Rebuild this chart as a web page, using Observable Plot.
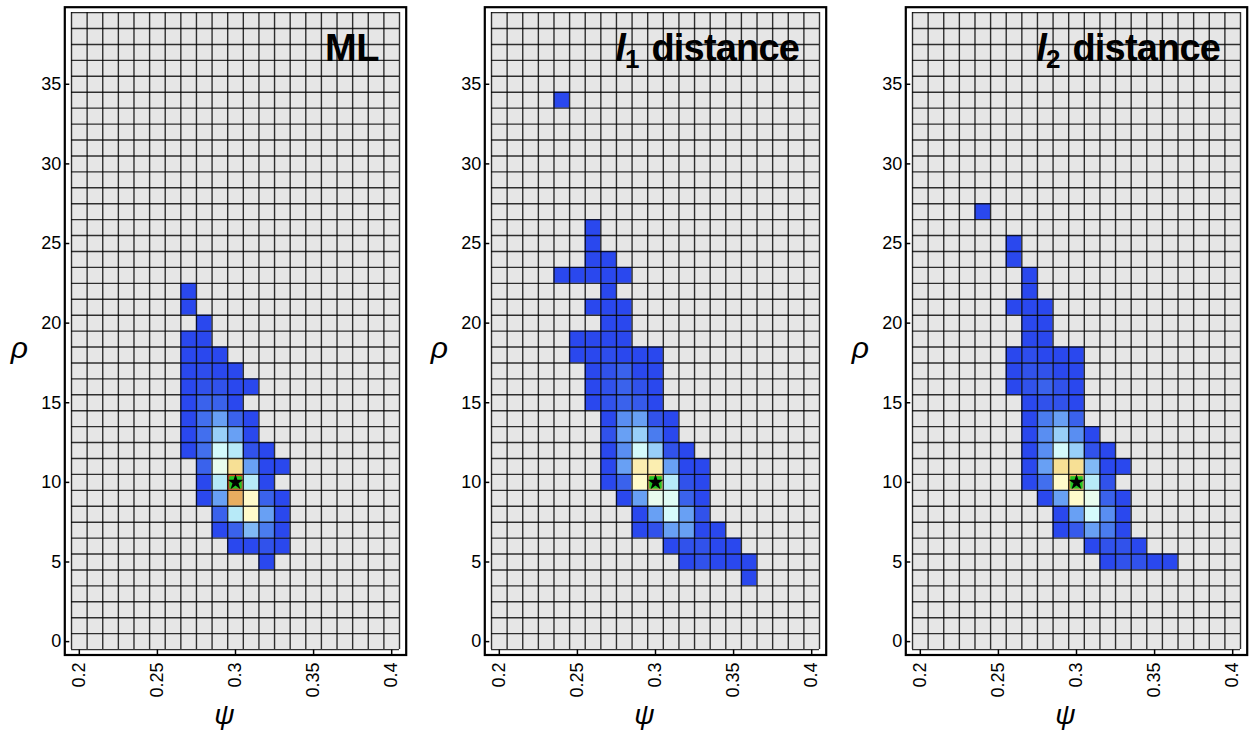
<!DOCTYPE html>
<html>
<head>
<meta charset="utf-8">
<script src="https://cdn.jsdelivr.net/npm/d3@7"></script>
<script src="https://cdn.jsdelivr.net/npm/@observablehq/plot@0.6"></script>
<style>
html, body { margin: 0; padding: 0; background: #fff; overflow: hidden; }
#wrap { position: relative; width: 1251px; height: 736px; overflow: hidden; }
.panel { position: absolute; top: 0; width: 420px; height: 736px; }
.panel svg { max-width: none !important; }
</style>
</head>
<body>
<div id="wrap"></div>
<script>
// ---- grid categories and ticks ----
const psiValues = [0.20, 0.21, 0.22, 0.23, 0.24, 0.25, 0.26, 0.27, 0.28, 0.29, 0.30,
                   0.31, 0.32, 0.33, 0.34, 0.35, 0.36, 0.37, 0.38, 0.39, 0.40];
const rhoValues = [0, 1, 2, 3, 4, 5, 6, 7, 8, 9, 10, 11, 12, 13, 14, 15, 16, 17, 18, 19,
                   20, 21, 22, 23, 24, 25, 26, 27, 28, 29, 30, 31, 32, 33, 34, 35, 36, 37, 38, 39];
const xTicks = [0.2, 0.25, 0.3, 0.35, 0.4];
const yTicks = [0, 5, 10, 15, 20, 25, 30, 35];
const truePsi = 0.30;
const trueRho = 10;
const panelTitles = ["ML", "l1 distance", "l2 distance"];

// colour levels (1 = lowest frequency, 13 = highest)
const levelColors = ["#2a48ee", "#3152eb", "#3a62ec", "#4a7cef", "#68a0f4", "#98cff8", "#b7eaf8",
                     "#d5fbfc", "#e8fcee", "#fffbcb", "#f7e095", "#e8ae60", "#dc5028"];

// rows: [rho, first psi, levels from left to right]
const mlRows = [
  [22, 0.27, [1]],
  [21, 0.27, [1]],
  [20, 0.28, [1]],
  [19, 0.27, [1, 1]],
  [18, 0.27, [1, 1, 1]],
  [17, 0.27, [1, 1.5, 1, 1]],
  [16, 0.27, [1, 2, 2, 1, 1]],
  [15, 0.27, [1, 3, 3, 1]],
  [14, 0.27, [1, 3.5, 5, 3, 1]],
  [13, 0.27, [1, 3.5, 6, 5, 1]],
  [12, 0.27, [1, 3.5, 8, 7, 2, 1]],
  [11, 0.28, [3, 9, 11, 5, 1, 1]],
  [10, 0.28, [1, 7, 13, 7, 1]],
  [9, 0.28, [1, 5, 12, 10, 3, 1]],
  [8, 0.29, [3, 7, 10, 5, 1]],
  [7, 0.29, [1, 3, 5.5, 4, 1]],
  [6, 0.30, [1, 1, 2, 1]],
  [5, 0.32, [1]]
];
const l1Rows = [
  [34, 0.24, [1]],
  [26, 0.26, [1]],
  [25, 0.26, [1]],
  [24, 0.26, [1, 1]],
  [23, 0.24, [1, 1, 1, 1, 1]],
  [22, 0.27, [1]],
  [21, 0.26, [1, 1, 1]],
  [20, 0.27, [1, 1]],
  [19, 0.25, [1, 1, 1, 1]],
  [18, 0.25, [1, 1, 1.5, 1, 1, 1]],
  [17, 0.26, [1, 2, 3, 1, 1]],
  [16, 0.26, [1, 2, 3, 2, 1]],
  [15, 0.26, [1, 2, 3, 2.5, 1]],
  [14, 0.27, [1, 4.5, 5, 2, 1]],
  [13, 0.27, [2, 5, 6, 4, 1]],
  [12, 0.27, [1, 4.5, 8, 6, 2, 1]],
  [11, 0.27, [1, 5, 10.5, 10.5, 5, 1, 1]],
  [10, 0.27, [1, 3, 10, 12, 7, 2, 1]],
  [9, 0.28, [1, 5, 9, 8.5, 3, 1]],
  [8, 0.29, [1, 5, 8, 5, 2]],
  [7, 0.29, [1, 2, 5, 5, 1, 1]],
  [6, 0.31, [1, 2, 2, 1, 1]],
  [5, 0.32, [1, 2, 1, 1, 1]],
  [4, 0.36, [1]]
];
const l2Rows = [
  [27, 0.24, [1]],
  [25, 0.26, [1]],
  [24, 0.26, [1]],
  [23, 0.27, [1]],
  [22, 0.27, [1]],
  [21, 0.26, [1, 1, 1]],
  [20, 0.27, [1, 1]],
  [19, 0.27, [1, 1]],
  [18, 0.26, [1, 1.5, 1, 1, 1]],
  [17, 0.26, [1, 2, 2, 1, 1]],
  [16, 0.26, [1, 2, 3, 2, 1]],
  [15, 0.27, [1, 2, 2, 1]],
  [14, 0.27, [1, 4, 5, 3]],
  [13, 0.27, [1, 4.5, 6, 4.5, 1]],
  [12, 0.27, [1, 4.5, 8, 6, 2, 1]],
  [11, 0.27, [1, 5, 11, 11, 5.5, 1, 1]],
  [10, 0.27, [1, 3.5, 10, 12, 7, 2]],
  [9, 0.28, [1, 5, 10, 9, 3, 1]],
  [8, 0.29, [1, 5, 8, 4.5, 1]],
  [7, 0.29, [1, 2.5, 5, 4, 1]],
  [6, 0.31, [1, 2, 2, 1]],
  [5, 0.32, [1, 2, 2, 1, 1]]
];
const panelRows = [mlRows, l1Rows, l2Rows];

// ---- layout ----
const panelLeft = [0, 420, 841];
const W = 420, H = 736;
const halfX = 0.005, halfY = 0.5;

function expand(rows) {
  const out = [];
  for (const [rho, first, levels] of rows) {
    levels.forEach((level, i) => out.push({psi: +(first + i * 0.01).toFixed(2), rho, level}));
  }
  return out;
}

function makePanel(rows, title, left) {
  const cells = expand(rows);
  const bg = d3.cross(psiValues, rhoValues).map(([psi, rho]) => ({psi, rho}));
  const xLo = psiValues[0] - halfX, xHi = psiValues[psiValues.length - 1] + halfX;
  const yLo = rhoValues[0] - halfY, yHi = rhoValues[rhoValues.length - 1] + halfY;
  const xEdges = psiValues.map(v => v - halfX).concat([xHi]);
  const yEdges = rhoValues.map(v => v - halfY).concat([yHi]);
  const padX = 0.00429, padY = 0.34;
  const truth = [{psi: truePsi, rho: trueRho}];

  const svg = Plot.plot({
    width: W, height: H,
    marginLeft: 64.3, marginRight: W - 405.7, marginTop: 6.7, marginBottom: H - 654.5,
    x: {domain: [xLo - padX, xHi + padX]},
    y: {domain: [yLo - padY, yHi + padY]},
    color: {type: "linear", domain: levelColors.map((c, i) => i + 1), range: levelColors, interpolate: "rgb"},
    style: {fontFamily: "'Liberation Sans', Arial, sans-serif", fontSize: "18px", color: "#000",
            background: "transparent", overflow: "visible", maxWidth: "none"},
    marks: [
      Plot.rect(bg, {x1: d => d.psi - halfX, x2: d => d.psi + halfX, y1: d => d.rho - halfY, y2: d => d.rho + halfY, fill: "#e6e6e6"}),
      Plot.rect(cells, {x1: d => d.psi - halfX, x2: d => d.psi + halfX, y1: d => d.rho - halfY, y2: d => d.rho + halfY, fill: "level"}),
      Plot.ruleX(xEdges, {x: d => d, y1: yLo, y2: yHi, stroke: "#000", strokeWidth: 1.4, strokeOpacity: 0.8}),
      Plot.ruleY(yEdges, {y: d => d, x1: xLo, x2: xHi, stroke: "#000", strokeWidth: 1.4, strokeOpacity: 0.8}),
      Plot.dot(truth, {x: "psi", y: "rho", symbol: "square", r: 7, fill: "#22c622", stroke: "none"}),
      Plot.dot(truth, {x: "psi", y: "rho", symbol: "star", r: 5, fill: "#000", stroke: "none"}),
      Plot.frame({stroke: "#000", strokeWidth: 2.2}),
      Plot.axisY(yTicks, {tickSize: -5, tickPadding: 8.5, strokeWidth: 1.5, tickFormat: d => String(d), label: null,
                          fill: "#000", fontSize: 18}),
      Plot.axisX(xTicks, {tickSize: -5, tickPadding: 12.5, tickRotate: -90, strokeWidth: 1.5, tickFormat: d => String(d),
                          label: null, fill: "#000", fontSize: 18}),
      Plot.text([title], {text: d => d, frameAnchor: "top-right", dx: -27, dy: 53.3, lineAnchor: "bottom",
                          fontSize: 38, fontWeight: "bold", fill: "#000"}),
      Plot.text(["ρ"], {text: d => d, frameAnchor: "left", dx: -54, dy: 27, lineAnchor: "bottom",
                        fontSize: 30, fontStyle: "italic", fill: "#000"}),
      Plot.text(["ψ"], {text: d => d, frameAnchor: "bottom", dx: -11, dy: 69, lineAnchor: "bottom",
                        fontSize: 28, fontStyle: "italic", fill: "#000"})
    ]
  });

  // title with italic l and subscript digit
  const t = d3.select(svg).selectAll("text").filter(function () { return this.textContent === title; });
  t.attr("letter-spacing", title === "ML" ? "-0.3px" : "-0.8px");
  const m = /^l(\d) (.*)$/.exec(title);
  if (m) {
    t.text(null);
    t.append("tspan").attr("font-style", "italic").text("l");
    t.append("tspan").attr("font-size", 26).attr("dy", 7).text(m[1]);
    t.append("tspan").attr("dy", -7).attr("dx", 3).text(" " + m[2]);
  }

  const div = document.createElement("div");
  div.className = "panel";
  div.style.left = left + "px";
  div.appendChild(svg);
  return div;
}

const wrap = document.getElementById("wrap");
panelRows.forEach((rows, i) => wrap.appendChild(makePanel(rows, panelTitles[i], panelLeft[i])));
</script>
</body>
</html>
